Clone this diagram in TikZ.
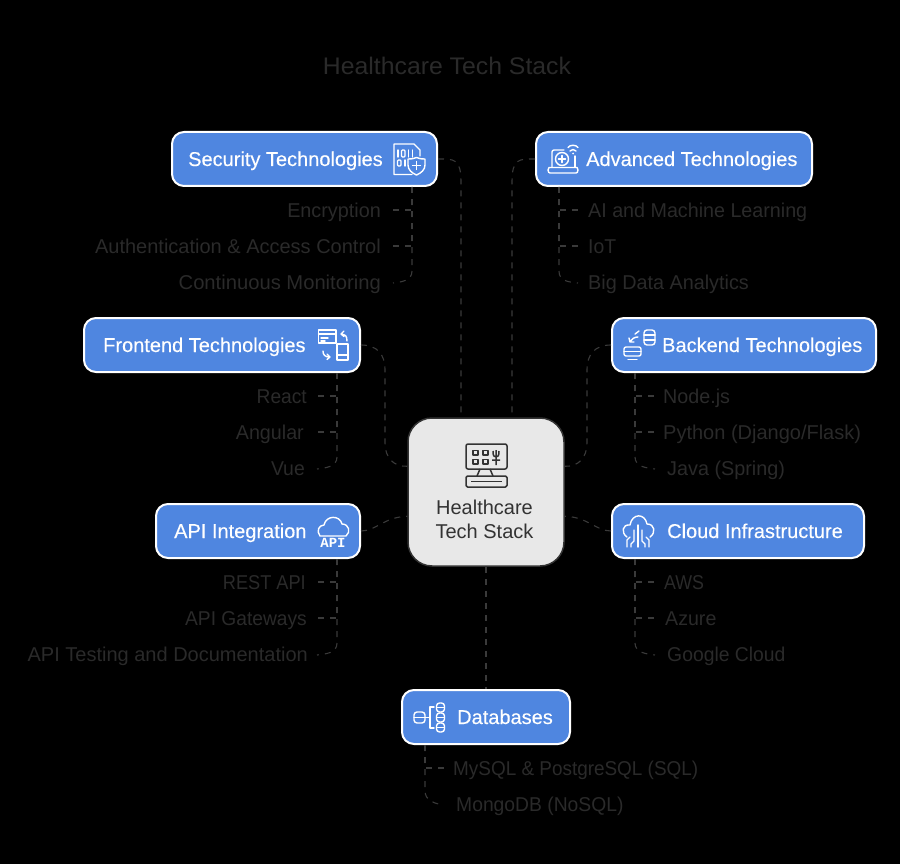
\documentclass[tikz,border=0pt]{standalone}
\usepackage{fontspec}
\setmainfont{Liberation Sans}
\newfontfamily\monobold{Liberation Mono}
\usetikzlibrary{calc}
\definecolor{bgc}{HTML}{000000}
\definecolor{dimtxt}{HTML}{2A2A2A}
\definecolor{linec}{HTML}{3A3A3A}
\definecolor{bluec}{HTML}{4F86E0}
\definecolor{centerc}{HTML}{E8E8E8}
\definecolor{darkc}{HTML}{333333}
\tikzset{
  hub/.style={draw=white,line width=2pt,fill=bluec,rounded corners=12pt,minimum height=54pt,inner sep=0pt},
  hubtext/.style={text=white,inner sep=0pt,font=\fontsize{20}{24}\selectfont\addfontfeature{FakeBold=0.25},text height=14pt,text depth=0pt},
  leaf/.style={text=dimtxt,inner sep=0pt,font=\fontsize{20}{24}\selectfont\addfontfeature{FakeStretch=#1},text height=14pt,text depth=0pt},
  leaf/.default=1,
  conn/.style={draw=linec,line width=1.1pt,dash pattern=on 6pt off 6pt},
  ico/.style={draw=white,line width=1.4pt,line cap=round,line join=round},
  icod/.style={draw=darkc,line width=1.5pt,line join=round},
}
\begin{document}
\begin{tikzpicture}[x=1pt,y=-1pt]
\useasboundingbox (0,0) rectangle (900,864);
\fill[bgc] (0,0) rectangle (900,864);
\node[text=dimtxt,inner sep=0pt,font=\fontsize{24}{28}\selectfont\addfontfeature{FakeStretch=1.033}] (title) at (447,66) {Healthcare Tech Stack};

% hubs
\node[hub,minimum width=265pt] (sec) at (304.5,159) {};
\node[hub,minimum width=276pt] (adv) at (674,159) {};
\node[hub,minimum width=276pt] (fro) at (222,345) {};
\node[hub,minimum width=264pt] (bac) at (744,345) {};
\node[hub,minimum width=204pt] (api) at (258,531) {};
\node[hub,minimum width=252pt] (clo) at (738,531) {};
\node[hub,minimum width=168pt] (dbs) at (486,717) {};
\node[draw=darkc,line width=1.5pt,fill=centerc,rounded corners=24pt,minimum width=156pt,minimum height=148pt,inner sep=0pt] (ctr) at (486,492) {};

% hub labels
\node[hubtext,anchor=west] (secT) at (188,159) {Security Technologies};
\node[hubtext,anchor=west] (advT) at (586,159) {Advanced Technologies};
\node[hubtext,anchor=west] (froT) at (103,345) {Frontend Technologies};
\node[hubtext,anchor=west] (bacT) at (662,345) {Backend Technologies};
\node[hubtext,anchor=west] (apiT) at (174,531) {API Integration};
\node[hubtext,anchor=west] (cloT) at (667,531) {Cloud Infrastructure};
\node[hubtext,anchor=west] (dbsT) at (457,717) {Databases};
\node[text=darkc,inner sep=0pt,font=\fontsize{20}{24}\selectfont,align=center] (ctrT) at (484.5,519) {Healthcare\\Tech Stack};

% leaves
\node[leaf=.99,anchor=east] (s1) at (381,210) {Encryption};
\node[leaf,anchor=east] (s2) at (381,246) {Authentication \& Access Control};
\node[leaf=1.01,anchor=east] (s3) at (381,282) {Continuous Monitoring};
\node[leaf=.985,anchor=west] (a1) at (588,210) {AI and Machine Learning};
\node[leaf=.97,anchor=west] (a2) at (588,246) {IoT};
\node[leaf=.99,anchor=west] (a3) at (588,282) {Big Data Analytics};
\node[leaf=.96,anchor=east] (f1) at (307,396) {React};
\node[leaf=.985,anchor=east] (f2) at (304,432) {Angular};
\node[leaf=.97,anchor=east] (f3) at (305,468) {Vue};
\node[leaf=.985,anchor=west] (b1) at (663,396) {Node.js};
\node[leaf,anchor=west] (b2) at (663,432) {Python (Django/Flask)};
\node[leaf=.99,anchor=west] (b3) at (667,468) {Java (Spring)};
\node[leaf=.91,anchor=east] (p1) at (306,582) {REST API};
\node[leaf=.96,anchor=east] (p2) at (307,618) {API Gateways};
\node[leaf,anchor=east] (p3) at (308,654) {API Testing and Documentation};
\node[leaf=.89,anchor=west] (c1) at (664,582) {AWS};
\node[leaf=.98,anchor=west] (c2) at (665,618) {Azure};
\node[leaf=.967,anchor=west] (c3) at (667,654) {Google Cloud};
\node[leaf=.946,anchor=west] (d1) at (453,768) {MySQL \& PostgreSQL (SQL)};
\node[leaf=.965,anchor=west] (d2) at (456,804) {MongoDB (NoSQL)};

% connection points on the boxes
\coordinate (ctrA) at ($(ctr.north)+(-25,0)$);
\coordinate (ctrB) at ($(ctr.north)+(26,0)$);
\coordinate (ctrC) at ($(ctr.north west)+(0,49)$);
\coordinate (ctrD) at ($(ctr.north east)+(0,49)$);
\coordinate (ctrE) at ($(ctr.north west)+(0,99)$);
\coordinate (ctrF) at ($(ctr.north east)+(0,99)$);
\coordinate (secB) at ($(sec.south east)+(-26,0)$);
\coordinate (advB) at ($(adv.south west)+(24,0)$);
\coordinate (froB) at ($(fro.south east)+(-24,0)$);
\coordinate (bacB) at ($(bac.south west)+(24,0)$);
\coordinate (apiB) at ($(api.south east)+(-24,0)$);
\coordinate (cloB) at ($(clo.south west)+(24,0)$);
\coordinate (dbsB) at ($(dbs.south west)+(24,0)$);

% main connectors
\draw[conn] (sec.east) .. controls ++(16,0) and ($(ctrA)+(0,-259)$) .. ($(ctrA)+(0,-235)$) -- (ctrA);
\draw[conn] (adv.west) .. controls ++(-16,0) and ($(ctrB)+(0,-259)$) .. ($(ctrB)+(0,-235)$) -- (ctrB);
\draw[conn] (fro.east) .. controls ++(16,0) and (385,354) .. (385,370) -- (385,443) .. controls (385,458) and (394,467) .. (ctrC);
\draw[conn] (bac.west) .. controls ++(-16,0) and (587,354) .. (587,370) -- (587,443) .. controls (587,458) and (578,467) .. (ctrD);
\draw[conn] (api.east) .. controls (376,531) and (384,517) .. (ctrE);
\draw[conn] (clo.west) .. controls (596,531) and (588,517) .. (ctrF);
\draw[conn] (ctr.south) -- (dbs.north);

% leaf connectors
\foreach \t/\l/\g in {secB/s1/12,secB/s2/12,froB/f1/11,froB/f2/14,apiB/p1/12,apiB/p2/11,advB/a1/10,advB/a2/10,bacB/b1/9,bacB/b2/9,cloB/c1/10,cloB/c2/11,dbsB/d1/9}
  \draw[conn,shorten >=\g pt] (\t) |- (\l);
\draw[conn] (secB) -- ($(secB)+(0,84)$) .. controls ($(secB)+(0,94)$) and ($(s3.east)+(20,0)$) .. ($(s3.east)+(12,1)$);
\draw[conn] (advB) -- ($(advB)+(0,84)$) .. controls ($(advB)+(0,94)$) and ($(a3.west)+(-20,0)$) .. ($(a3.west)+(-10,1)$);
\draw[conn] (froB) -- ($(froB)+(0,84)$) .. controls ($(froB)+(0,94)$) and ($(f3.east)+(20,0)$) .. ($(f3.east)+(12,1)$);
\draw[conn] (bacB) -- ($(bacB)+(0,84)$) .. controls ($(bacB)+(0,94)$) and ($(b3.west)+(-20,0)$) .. ($(b3.west)+(-12,1)$);
\draw[conn] (apiB) -- ($(apiB)+(0,84)$) .. controls ($(apiB)+(0,94)$) and ($(p3.east)+(18,0)$) .. ($(p3.east)+(9,1)$);
\draw[conn] (cloB) -- ($(cloB)+(0,84)$) .. controls ($(cloB)+(0,94)$) and ($(c3.west)+(-20,0)$) .. ($(c3.west)+(-12,1)$);
\draw[conn] (dbsB) -- ($(dbsB)+(0,46)$) .. controls ($(dbsB)+(0,56)$) and ($(d2.west)+(-20,0)$) .. ($(d2.west)+(-12,1)$);

% --- icons ---
% security
\draw[ico] (412,174.5) -- (394,174.5) -- (394,144) -- (414,144) -- (420,150) -- (420,156);
\foreach \x in {398,408.5,412.5}{\draw[ico] (\x,150) -- (\x,157);}
\draw[ico,rounded corners=1pt] (401.5,150) rectangle (405,157);
\draw[ico,rounded corners=1pt] (397.5,160) rectangle (401,166);
\draw[ico] (405,160) -- (405,166);
\draw[ico,fill=bluec] (408,159) .. controls (412,159) and (414,158.5) .. (416.5,157.5) .. controls (419,158.5) and (421,159) .. (425,159) -- (425,165) .. controls (425,170) and (421,173) .. (416.5,175) .. controls (412,173) and (408,170) .. (408,165) -- cycle;
\draw[ico] (412.5,165.5) -- (420.5,165.5) (416.5,161.5) -- (416.5,169.5);
% advanced
\draw[ico] (552,167) -- (552,152) .. controls (552,151) and (553,150) .. (554,150) -- (564,150);
\draw[ico] (575,156) -- (575,167);
\draw[ico] (549,167.5) -- (577,167.5) -- (578,170) .. controls (578,172) and (577,173) .. (576,173) -- (550,173) .. controls (549,173) and (548,172) .. (548,170) -- cycle;
\draw[ico] (562,159) circle (6.5);
\draw[ico] (562,155.5) -- (562,162.5) (558.5,159) -- (565.5,159);
\draw[ico] (568,147.5) .. controls (570,144.5) and (576,144.5) .. (578,147.5);
\draw[ico] (570,151) .. controls (571.5,149) and (574.5,149) .. (576,151);
\fill[white] (573,153.5) circle (1);
% frontend
\draw[ico] (318.5,330) rectangle (336,343);
\draw[ico] (318.5,334) -- (336,334) (321,338) -- (328,338) (321,341) -- (325,341);
\draw[ico] (337,344) rectangle (348,360);
\draw[ico] (337,355) -- (348,355);
\draw[ico] (347,341) .. controls (347,336) and (345,334) .. (342,334) (344,331) -- (341,334) -- (344,336.5);
\draw[ico] (323,351) .. controls (323,355) and (325,357) .. (330,357) (327,354) -- (330,357) -- (327,359.5);
% backend
\draw[ico,rounded corners=3pt] (644,330) rectangle (655,345);
\draw[ico] (644,335) -- (655,335) (644,340) -- (655,340);
\draw[ico,rounded corners=2pt] (624,347) rectangle (641,356);
\draw[ico] (624,351.5) -- (641,351.5);
\draw[ico] (628,359.5) -- (637,359.5);
\draw[ico] (638,337) .. controls (634,337) and (632,339) .. (630,342) (629,338) -- (630,342) -- (634,342);
\draw[ico] (635,334) -- (639,331);
% api
\draw[ico] (320,536) .. controls (316,531) and (319,525) .. (324,525) .. controls (326,515) and (340,515) .. (342,524) .. controls (349,524) and (351,532) .. (346,536) -- cycle;
\node[inner sep=0pt,text=white,font=\fontsize{14}{14}\selectfont\monobold\bfseries] (apiI) at (333,542.5) {API};
% cloud infra
\draw[ico] (627,537) .. controls (621,533) and (622,524) .. (630,525) .. controls (632,513) and (645,513) .. (647,524) .. controls (655,524) and (656,533) .. (650,537);
\draw[ico] (638,525) -- (638,547);
\draw[ico] (634,530) -- (634,541) -- (631,544) -- (631,547);
\draw[ico] (642,530) -- (642,541) -- (645,544) -- (645,547);
\draw[ico] (627,547) -- (627,540) -- (630,537);
\draw[ico] (649,547) -- (649,540) -- (646,537);
% databases
\draw[ico,rounded corners=3pt] (414,712) rectangle (425,723);
\draw[ico] (414,717.5) -- (425,717.5);
\draw[ico] (425,717.5) -- (430,717.5) (434,707) -- (430,707) -- (430,728) -- (434,728);
\foreach \y in {703,713,723}{
  \draw[ico,rounded corners=3pt] (436.5,\y) rectangle (444.5,\y+9);
  \draw[ico] (436.5,\y+4.5) -- (444.5,\y+4.5);
}
% centre
\draw[icod,rounded corners=2pt] (466,444) rectangle (507,469);
\draw[icod] (473,450.5) rectangle (478,455) (483,450.5) rectangle (488,455) (473,459.5) rectangle (478,464) (483,459.5) rectangle (488,464);
\draw[icod] (493,451) .. controls (493,456) and (494,457) .. (496,457) .. controls (498,457) and (499,456) .. (499,451) (496,450) -- (496,465) (492,460) -- (500,460);
\draw[icod] (480,469) -- (477,476) (490,469) -- (493,476);
\draw[icod,rounded corners=1.5pt] (466,476) rectangle (507,487);
\draw[icod] (471,481.5) -- (502,481.5);
\end{tikzpicture}
\end{document}
